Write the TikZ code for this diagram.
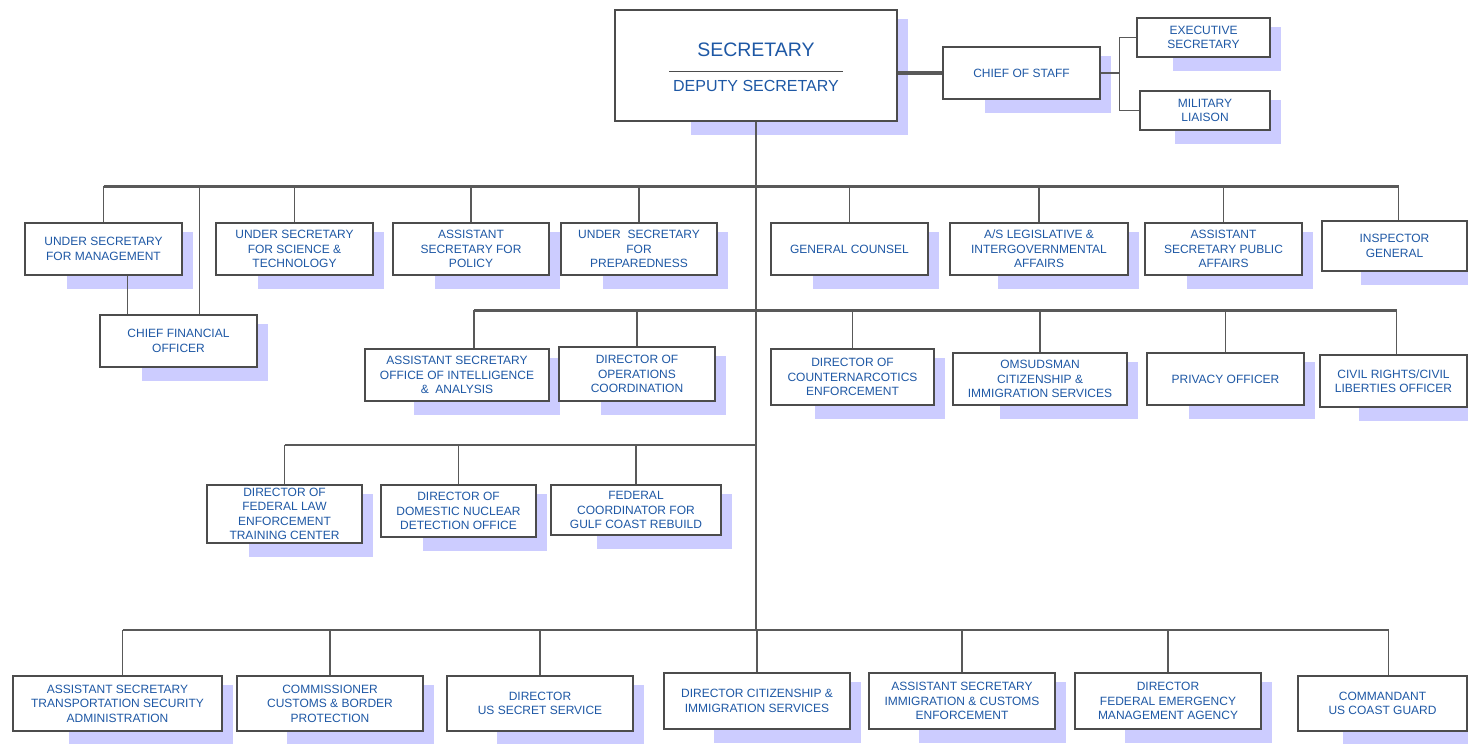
\documentclass[tikz,border=0pt]{standalone}
\usepackage{fontspec}
\setmainfont{Liberation Sans}
\usetikzlibrary{calc,backgrounds}

\begin{document}
\begin{tikzpicture}[x=1pt,y=-1pt]
  % Colors
  \definecolor{labelcolor}{RGB}{30,88,165}
  \definecolor{shadecolor}{RGB}{204,204,255}
  \colorlet{linecolor}{black!65}

  % Styles
  \tikzstyle{office}=[draw=black!70,line width=1.3pt,fill=white,text=labelcolor,
    align=center,inner sep=0pt,minimum width=157pt,minimum height=52pt,
    font=\fontsize{12}{14.5}\selectfont]
  \tikzstyle{link}=[draw=linecolor,line width=1.4pt]
  \tikzstyle{main bus}=[draw=linecolor,line width=3pt]
  \tikzstyle{title text}=[text=labelcolor,inner sep=0pt]

  \useasboundingbox (0,0) rectangle (1468,744);

  % The secretary and the front office
  \node[office,minimum width=282pt,minimum height=111pt] (sec) at (756,65.5) {};
  \node[title text,font=\fontsize{19.5}{20}\selectfont] (sectitle) at (756,50) {SECRETARY};
  \node[title text,font=\fontsize{16}{17}\selectfont] (deptitle) at (756,86) {DEPUTY SECRETARY};
  \draw[line width=1pt,draw=black!70] ([xshift=-87pt,yshift=-5.5pt]sec.center)
    -- ([xshift=87pt,yshift=-5.5pt]sec.center);

  \node[office] (cos) at (1021.5,73) {CHIEF OF STAFF};
  \node[office,minimum width=133pt,minimum height=39pt] (exec) at (1203.5,37.5) {EXECUTIVE\\SECRETARY};
  \node[office,minimum width=130pt,minimum height=39pt] (mil) at (1205,110.5) {MILITARY\\LIAISON};

  % First row
  \node[office] (usm) at (103.5,249) {UNDER SECRETARY\\FOR MANAGEMENT};
  \node[office] (ust) at (294.5,249) {UNDER SECRETARY\\FOR SCIENCE \&\\TECHNOLOGY};
  \node[office,minimum width=156pt] (asp) at (471,249) {ASSISTANT\\SECRETARY FOR\\POLICY};
  \node[office,minimum width=156pt] (usp) at (639,249) {UNDER\ \ SECRETARY\\FOR\\PREPAREDNESS};
  \node[office] (gc) at (849.5,249) {GENERAL COUNSEL};
  \node[office,minimum width=178pt] (asl) at (1039,249) {A/S LEGISLATIVE \&\\INTERGOVERNMENTAL\\AFFAIRS};
  \node[office] (aspa) at (1223.5,249) {ASSISTANT\\SECRETARY PUBLIC\\AFFAIRS};
  \node[office,minimum width=145pt,minimum height=50pt] (ig) at (1394.5,246) {INSPECTOR\\GENERAL};
  \node[office] (cfo) at (178.5,341) {CHIEF FINANCIAL\\OFFICER};

  % Second row
  \node[office,minimum width=184pt] (asia) at (457,375) {ASSISTANT SECRETARY\\OFFICE OF INTELLIGENCE\\\&\ \ ANALYSIS};
  \node[office,minimum width=156pt,minimum height=54pt] (doc) at (637,374) {DIRECTOR OF\\OPERATIONS\\COORDINATION};
  \node[office,minimum width=163pt,minimum height=56pt] (dcn) at (852.5,377) {DIRECTOR OF\\COUNTERNARCOTICS\\ENFORCEMENT};
  \node[office,minimum width=174pt] (omb) at (1040,379) {OMSUDSMAN\\CITIZENSHIP \&\\IMMIGRATION SERVICES};
  \node[office] (priv) at (1225.5,379) {PRIVACY OFFICER};
  \node[office,minimum width=147pt] (crcl) at (1393.5,381) {CIVIL RIGHTS/CIVIL\\LIBERTIES OFFICER};

  % Third row
  \node[office,minimum width=155pt,minimum height=58pt] (fletc) at (284.5,514) {DIRECTOR OF\\FEDERAL LAW\\ENFORCEMENT\\TRAINING CENTER};
  \node[office,minimum width=155pt] (dndo) at (458.5,511) {DIRECTOR OF\\DOMESTIC NUCLEAR\\DETECTION OFFICE};
  \node[office,minimum width=170pt,minimum height=50pt] (fcgc) at (636,510) {FEDERAL\\COORDINATOR FOR\\GULF COAST REBUILD};

  % Operating components
  \node[office,minimum width=209pt,minimum height=55pt] (tsa) at (117.5,703.5) {ASSISTANT SECRETARY\\TRANSPORTATION SECURITY\\ADMINISTRATION};
  \node[office,minimum width=186pt,minimum height=55pt] (cbp) at (330,703.5) {COMMISSIONER\\CUSTOMS \& BORDER\\PROTECTION};
  \node[office,minimum width=186pt,minimum height=55pt] (usss) at (540,703.5) {DIRECTOR\\US SECRET SERVICE};
  \node[office,minimum width=186pt,minimum height=56pt] (cis) at (757,701) {DIRECTOR CITIZENSHIP \&\\IMMIGRATION SERVICES};
  \node[office,minimum width=186pt,minimum height=56pt] (ice) at (962,701) {ASSISTANT SECRETARY\\IMMIGRATION \& CUSTOMS\\ENFORCEMENT};
  \node[office,minimum width=186pt,minimum height=56pt] (fema) at (1168,701) {DIRECTOR\\FEDERAL EMERGENCY\\MANAGEMENT AGENCY};
  \node[office,minimum width=169pt,minimum height=55pt] (uscg) at (1382.5,703.5) {COMMANDANT\\US COAST GUARD};

  % Shadows
  \begin{scope}[on background layer]
    \foreach \n in {sec,cos,exec,mil,usm,ust,asp,usp,gc,asl,aspa,ig,cfo,
                    asia,doc,dcn,omb,priv,crcl,fletc,dndo,fcgc,
                    tsa,cbp,usss,cis,ice,fema,uscg}
      \fill[shadecolor] ($(\n.south west)!0.27!(\n.south east)+(0,13)$)
        rectangle ($(\n.north east)+(10,10)$);
  \end{scope}

  % Connectors
  \coordinate (bus1) at (756,186);
  \coordinate (bus2) at (756,310);
  \coordinate (bus3) at (756,445);
  \coordinate (bus4) at (756,630);
  \coordinate (fork) at ($(cos.east)+(19,0)$);

  \draw[line width=3.5pt,draw=linecolor] (sec.east |- cos.west) -- (cos.west);
  \draw[link] (cos.east) -- (fork);
  \draw[link] (exec.west) -| (fork) |- (mil.west);

  \draw[link] (sec.south) -- (bus4);

  \draw[main bus] (usm.north |- bus1) -- ([xshift=4pt]ig.north |- bus1);
  \foreach \n in {usm,ust,asp,usp,gc,asl,aspa}
    \draw[link] (\n.north) -- (\n.north |- bus1);
  \draw[link] ([xshift=4pt]ig.north) -- ([xshift=4pt]ig.north |- bus1);
  \draw[link] ([xshift=21pt]cfo.north) -- ([xshift=21pt]cfo.north |- bus1);
  \draw[link] ([xshift=-51pt]cfo.north) -- ([xshift=-51pt]cfo.north |- usm.south);

  \draw[main bus] ([xshift=17pt]asia.north |- bus2) -- ([xshift=3pt]crcl.north |- bus2);
  \draw[link] ([xshift=17pt]asia.north) -- ([xshift=17pt]asia.north |- bus2);
  \foreach \n in {doc,dcn,omb,priv}
    \draw[link] (\n.north) -- (\n.north |- bus2);
  \draw[link] ([xshift=3pt]crcl.north) -- ([xshift=3pt]crcl.north |- bus2);

  \draw[link] (fletc.north |- bus3) -- (bus3);
  \foreach \n in {fletc,dndo,fcgc}
    \draw[link] (\n.north) -- (\n.north |- bus3);

  \draw[link] ([xshift=5pt]tsa.north |- bus4) -- ([xshift=6pt]uscg.north |- bus4);
  \draw[link] ([xshift=5pt]tsa.north) -- ([xshift=5pt]tsa.north |- bus4);
  \foreach \n in {cbp,usss,cis,ice,fema}
    \draw[link] (\n.north) -- (\n.north |- bus4);
  \draw[link] ([xshift=6pt]uscg.north) -- ([xshift=6pt]uscg.north |- bus4);
\end{tikzpicture}
\end{document}
